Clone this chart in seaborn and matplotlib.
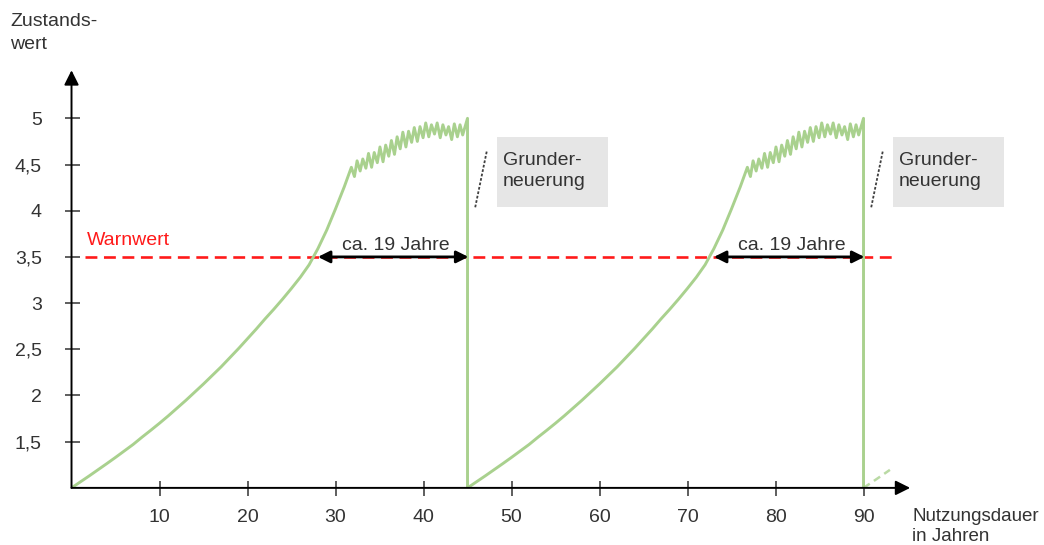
import numpy as np
import pandas as pd
import seaborn as sns
import matplotlib.pyplot as plt
from matplotlib.patches import Rectangle


# one cycle of the condition value (Zustandswert)
rise_x = [0, 1, 2, 3, 4, 5, 6, 7, 8, 9, 10, 11, 12, 13, 14, 15, 16, 17, 18, 19, 20,
          21, 22, 23, 24, 25, 26, 27, 28, 29, 30, 31, 31.8]
rise_y = [1.00, 1.064, 1.129, 1.195, 1.262, 1.330, 1.400, 1.470, 1.548, 1.623, 1.700,
          1.780, 1.864, 1.948, 2.036, 2.125, 2.217, 2.310, 2.410, 2.510, 2.615,
          2.720, 2.830, 2.935, 3.045, 3.160, 3.280, 3.415, 3.590, 3.790, 4.020, 4.260, 4.47]

wobble_x = [32.15, 32.45, 32.80, 33.10, 33.45, 33.75, 34.10, 34.40, 34.75, 35.05, 35.40, 35.70,
            36.05, 36.35, 36.70, 37.00, 37.35, 37.65, 38.00, 38.30, 38.65, 38.95, 39.30, 39.60,
            39.95, 40.25, 40.60, 40.90, 41.25, 41.55, 41.90, 42.20, 42.55, 42.85, 43.20, 43.50,
            43.85, 44.15, 44.45, 45.00, 45.00]
wobble_y = [4.37, 4.54, 4.43, 4.56, 4.46, 4.62, 4.47, 4.63, 4.52, 4.69, 4.53, 4.71,
            4.59, 4.76, 4.61, 4.80, 4.67, 4.85, 4.69, 4.86, 4.74, 4.90, 4.75, 4.91,
            4.79, 4.95, 4.80, 4.93, 4.83, 4.95, 4.79, 4.93, 4.82, 4.91, 4.77, 4.94,
            4.80, 4.93, 4.82, 5.00, 1.00]

cycle_len = 45
n_cycles = 2
warn_value = 3.5
span_label = "ca. 19 Jahre"
span_start = 28.0           # curve crosses the warning value
box_label = "Grunder-\nneuerung"

x_ticks = [10, 20, 30, 40, 50, 60, 70, 80, 90]
y_ticks = [1.5, 2, 2.5, 3, 3.5, 4, 4.5, 5]
y_tick_labels = ["1,5", "2", "2,5", "3", "3,5", "4", "4,5", "5"]

cyc_x = rise_x + wobble_x
cyc_y = rise_y + wobble_y
df = pd.DataFrame({
    "jahr": np.concatenate([np.array(cyc_x) + k * cycle_len for k in range(n_cycles)]),
    "wert": np.concatenate([np.array(cyc_y) for k in range(n_cycles)]),
})
# start of the next cycle, dashed
nxt = pd.DataFrame({"jahr": np.array(rise_x[:4]) + n_cycles * cycle_len, "wert": rise_y[:4]})

sns.set_theme(style="white")
plt.rcParams["font.family"] = ["Liberation Sans", "DejaVu Sans"]

green = "#a9d18e"
grey_txt = "#333333"
axis_col = "#333333"

fig = plt.figure(figsize=(10.44, 5.45), dpi=100)
ax = fig.add_axes([0.0685, 0.1048, 0.8092, 0.7798])
ax.set_xlim(0, 96)
ax.set_ylim(1, 5.6)

# warning value line
ax.plot([1.5, 93.3], [warn_value, warn_value], color="#ff1a1a", lw=1.9, dashes=(4.5, 2.5), zorder=2)
ax.text(1.7, 3.68, "Warnwert", color="#ff1a1a", fontsize=14, va="center", ha="left")

sns.lineplot(data=df, x="jahr", y="wert", sort=False, estimator=None, color=green, lw=2.1, ax=ax, zorder=3)
sns.lineplot(data=nxt, x="jahr", y="wert", sort=False, estimator=None, color=green, lw=1.8,
             ax=ax, zorder=3, linestyle=(0, (3, 2)), alpha=0.8)

for k in range(n_cycles):
    start = k * cycle_len
    end = (k + 1) * cycle_len
    # double arrow between warn value and renewal
    ax.annotate("", xy=(start + span_start, warn_value), xytext=(end + 0.1, warn_value),
                arrowprops=dict(arrowstyle="<|-|>", color="black", lw=2, mutation_scale=18,
                                shrinkA=0, shrinkB=0), zorder=4)
    ax.text((start + span_start + end) / 2 + 0.3, 3.53, span_label, fontsize=14, color=grey_txt,
            ha="center", va="bottom")
    # renewal box + pointer
    ax.plot([end + 2.18, end + 0.86], [4.64, 4.03], color="#404040", lw=1.3, ls=(0, (1.5, 1)), zorder=4)
    ax.add_patch(Rectangle((end + 3.3, 4.04), 12.7, 0.76, facecolor="#e6e6e6", edgecolor="none",
                           clip_on=False, zorder=1))
    ax.text(end + 4.0, 4.43, box_label, fontsize=14, color=grey_txt, ha="left", va="center",
            linespacing=1.3, clip_on=False)

# axes drawn as arrows
for s in ax.spines.values():
    s.set_visible(False)
ax.annotate("", xy=(95.3, 1), xytext=(0, 1), annotation_clip=False,
            arrowprops=dict(arrowstyle="-|>", color="black", lw=1.4, mutation_scale=22,
                            shrinkA=0, shrinkB=0))
ax.annotate("", xy=(0, 5.52), xytext=(0, 1), annotation_clip=False,
            arrowprops=dict(arrowstyle="-|>", color="black", lw=1.4, mutation_scale=22,
                            shrinkA=0, shrinkB=0))

ax.set_xticks(x_ticks)
ax.set_xticklabels([str(t) for t in x_ticks])
ax.set_yticks(y_ticks)
ax.set_yticklabels(y_tick_labels)
ax.tick_params(axis="both", direction="inout", length=10.8, width=1.1, color=axis_col,
               labelsize=14, labelcolor=grey_txt, left=True, bottom=True)
ax.tick_params(axis="x", pad=9.7)
ax.tick_params(axis="y", pad=16)
ax.set_xlabel("")
ax.set_ylabel("")
ax.grid(False)

fig.text(10 / 1044, 1 - 13 / 545, "Zustands-\nwert", fontsize=14, color=grey_txt, ha="left", va="top",
         linespacing=1.45)
fig.text(912 / 1044, 1 - 508 / 545, "Nutzungsdauer\nin Jahren", fontsize=13.5, color=grey_txt,
         ha="left", va="top", linespacing=1.2)

fig.savefig("out.png", dpi=100)
